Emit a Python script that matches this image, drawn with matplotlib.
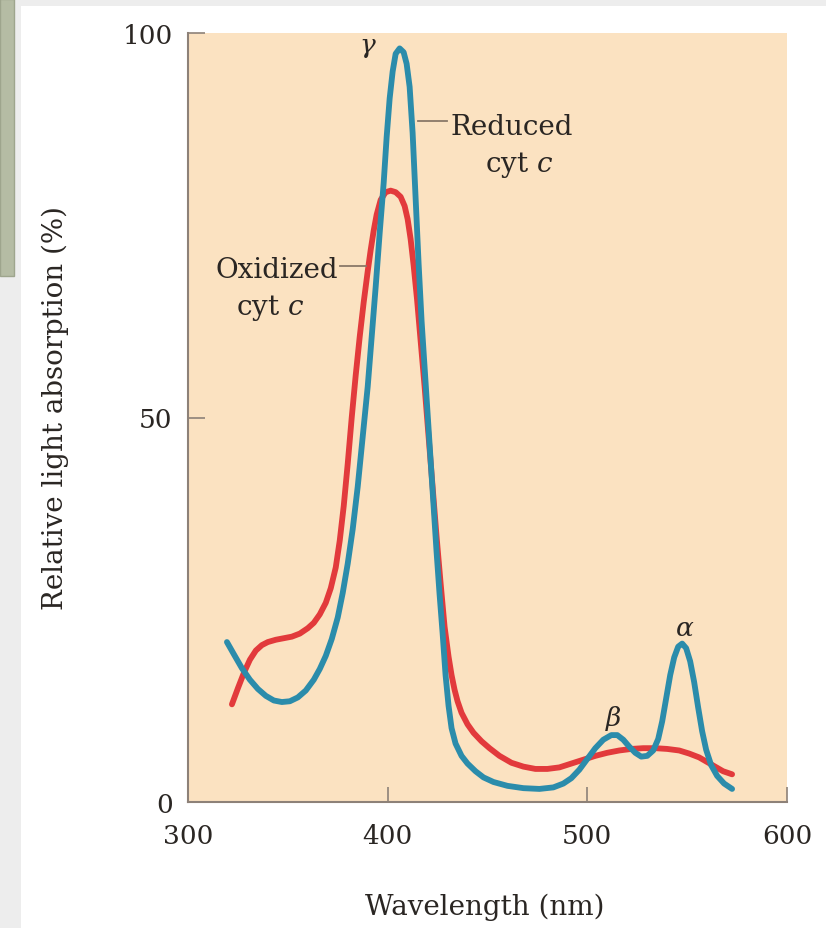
import matplotlib
matplotlib.use('Agg')
import matplotlib.pyplot as plt
from matplotlib.patches import Rectangle

plt.rcParams['font.family'] = 'DejaVu Serif'
plt.rcParams['mathtext.fontset'] = 'dejavuserif'

# Reduced cytochrome c (blue curve)
reduced_wl = [319.5, 323, 327, 331, 335, 339, 343, 347, 351, 355, 359, 363, 366, 369, 372,
              375, 377.5, 380, 382.5, 385, 387.5, 390, 392, 394, 396, 398, 399.5, 401,
              402.5, 404, 406, 408, 409.5, 411, 412.5, 414, 415.5, 417, 418.5, 420, 421.5,
              423, 424.5, 426, 427.5, 429, 430.5, 432, 434, 437, 440, 444, 448, 453, 460,
              468, 476, 483, 488, 492, 496, 500, 504, 508, 512, 515, 518, 521, 524, 527,
              530, 533, 535.5, 537.5, 539.5, 541.5, 543.5, 545.5, 547.5, 549.5, 551.5,
              553.5, 555.5, 557.5, 559.5, 562, 565, 568.5, 572.5]
reduced_abs = [20.8, 19.2, 17.4, 15.9, 14.7, 13.8, 13.2, 13.0, 13.1, 13.6, 14.5, 15.9, 17.3, 19.0, 21.2,
               24.0, 27.2, 31.0, 35.5, 41.0, 47.5, 54.0, 60.5, 67.0, 74.0, 80.5, 86.5, 91.5,
               95.0, 97.3, 98.0, 97.5, 96.0, 93.0, 87.0, 78.5, 70.0, 62.5, 56.5, 50.5, 44.5,
               38.5, 32.5, 27.0, 22.0, 16.5, 12.5, 9.6, 7.6, 6.0, 5.0, 4.0, 3.2, 2.6, 2.1,
               1.8, 1.7, 1.9, 2.4, 3.1, 4.2, 5.6, 7.0, 8.1, 8.7, 8.7, 8.1, 7.2, 6.4, 5.9,
               6.0, 6.7, 8.2, 10.5, 13.5, 16.5, 18.8, 20.2, 20.6, 20.0, 18.3,
               15.6, 12.3, 9.2, 6.8, 4.8, 3.4, 2.4, 1.7]

# Oxidized cytochrome c (red curve)
oxidized_wl = [322, 325, 328, 331, 334, 337, 340, 344, 348, 352, 356, 360, 363, 366, 369,
               371.5, 374, 376, 378, 380, 382, 384, 386, 388, 390, 391.5, 393, 394.5, 396.5,
               399, 401.5, 404, 406.5, 408.5, 410, 411.5, 413, 414.7, 416.5, 418.5, 420.5,
               422.5, 424.5, 426.5, 428.5, 430.5, 432, 433.5, 435, 437, 440, 443, 447, 451,
               456, 462, 468, 474, 480, 486, 492, 498, 504, 510, 516, 522, 528, 534, 540,
               546, 551, 556, 560, 564, 568, 572.5]
oxidized_abs = [12.7, 14.8, 16.8, 18.5, 19.7, 20.4, 20.8, 21.1, 21.3, 21.5, 21.9, 22.6, 23.3, 24.4, 25.9,
                27.8, 30.5, 34.0, 38.5, 44.0, 50.0, 55.5, 60.5, 65.0, 69.0, 71.8, 74.3, 76.4, 78.3,
                79.3, 79.5, 79.3, 78.7, 77.5, 75.8, 73.2, 69.8, 65.4, 60.0, 54.0, 47.5,
                41.0, 34.5, 28.5, 22.8, 18.9, 16.5, 14.6, 13.1, 11.6, 10.1, 9.0, 7.9, 7.0,
                6.0, 5.1, 4.6, 4.3, 4.3, 4.5, 5.0, 5.5, 6.0, 6.4, 6.7, 6.9, 7.0, 7.0, 6.9,
                6.7, 6.3, 5.8, 5.2, 4.6, 4.0, 3.6]

x_ticks = [300, 400, 500, 600]
y_ticks = [0, 50, 100]

blue = '#2b8cab'
red = '#e23a3c'
ink = '#2a2623'
spine_col = '#8d8178'

fig = plt.figure(figsize=(8.26, 9.29), dpi=100, facecolor='#ededed')
# page decoration: white panel and the grey-green tab on the left
fig.patches.append(Rectangle((21 / 826, 0), 1, 1 - 7 / 929, transform=fig.transFigure,
                             facecolor='white', edgecolor='none', zorder=-10))
fig.patches.append(Rectangle((0, 1 - 277 / 929), 14 / 826, 277 / 929, transform=fig.transFigure,
                             facecolor='#b5bca4', edgecolor='#9ea58d', linewidth=1, zorder=-10))

ax = fig.add_axes([188 / 826, 1 - 803 / 929, 599 / 826, 769 / 929])
ax.set_zorder(1)
ax.set_facecolor('#fbe2c1')

ax.plot(oxidized_wl, oxidized_abs, color=red, linewidth=4.2,
        solid_capstyle='round', solid_joinstyle='round')
ax.plot(reduced_wl, reduced_abs, color=blue, linewidth=4.2,
        solid_capstyle='round', solid_joinstyle='round')

ax.set_xlim(300, 600)
ax.set_ylim(0, 100)
ax.set_xticks(x_ticks)
ax.set_yticks(y_ticks)
ax.tick_params(axis='x', direction='in', length=11, width=1.2, color=spine_col,
               labelsize=19, labelcolor=ink, pad=15)
ax.tick_params(axis='y', direction='in', length=12, width=1.2, color=spine_col,
               labelsize=19, labelcolor=ink, pad=11)
for side in ['top', 'right']:
    ax.spines[side].set_visible(False)
for side in ['left', 'bottom']:
    ax.spines[side].set_color(spine_col)
    ax.spines[side].set_linewidth(1.5)

fig.text(485 / 826, 1 - 907 / 929, 'Wavelength (nm)', ha='center', va='center',
         fontsize=20, color=ink)
fig.text(55 / 826, 1 - 408 / 929, 'Relative light absorption (%)', ha='center', va='center',
         rotation=90, fontsize=20, color=ink)

# curve labels with short leader lines
ax.text(431.3, 87.9, 'Reduced', ha='left', va='center', fontsize=20, color=ink)
ax.text(466.0, 82.9, r'cyt $c$', ha='center', va='center', fontsize=20, color=ink)
ax.plot([415.3, 429.8], [88.6, 88.6], color='#8a7868', linewidth=1.3)

ax.text(375.0, 69.3, 'Oxidized', ha='right', va='center', fontsize=20, color=ink)
ax.text(341.0, 64.4, r'cyt $c$', ha='center', va='center', fontsize=20, color=ink)
ax.plot([376.0, 389.0], [69.7, 69.7], color='#8a7868', linewidth=1.3)

ax.text(390.2, 98.2, r'$\gamma$', ha='center', va='center', fontsize=19, color=ink)
ax.text(513.0, 11.0, r'$\beta$', ha='center', va='center', fontsize=19, color=ink)
ax.text(548.5, 22.7, r'$\alpha$', ha='center', va='center', fontsize=19, color=ink)

fig.savefig('out.png', dpi=100, facecolor=fig.get_facecolor())
